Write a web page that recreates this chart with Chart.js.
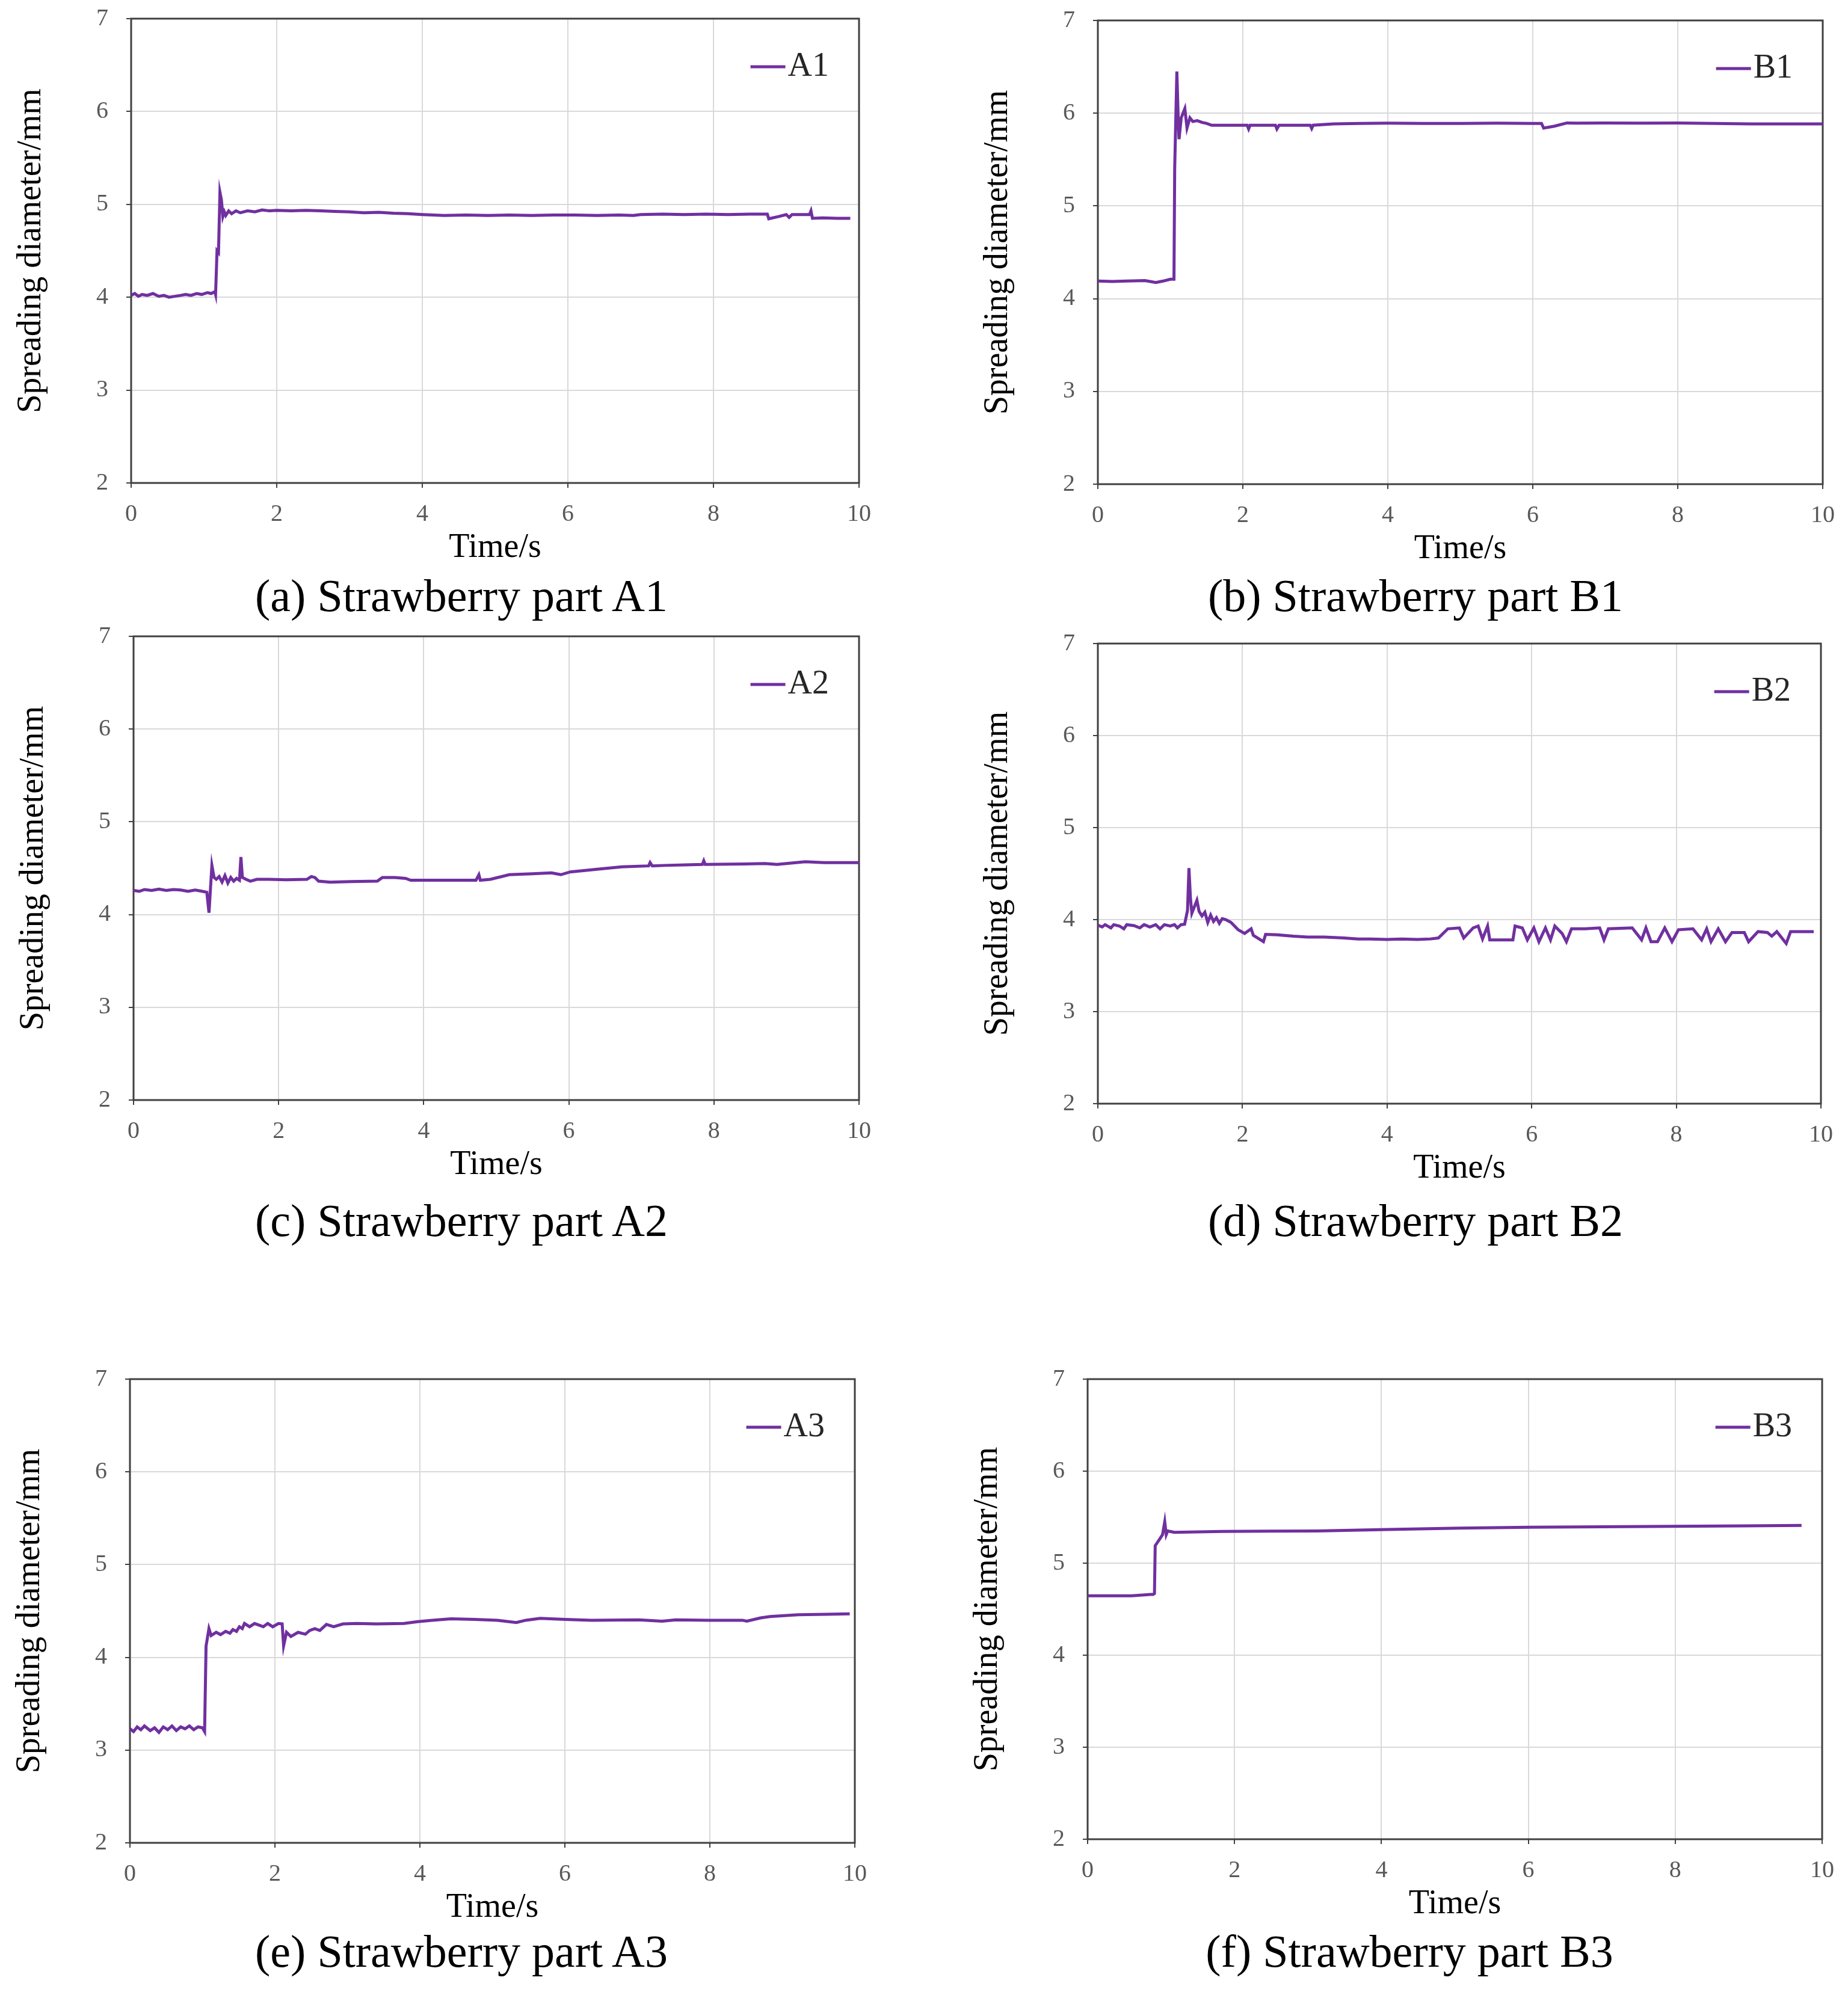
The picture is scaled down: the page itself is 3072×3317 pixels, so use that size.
<!DOCTYPE html>
<html>
<head>
<meta charset="utf-8">
<script src="https://cdn.jsdelivr.net/npm/chart.js@4.4.1/dist/chart.umd.min.js"></script>
<style>
  body { margin: 0; background: #fff; width: 3072px; height: 3317px; position: relative; overflow: hidden; }
  canvas { position: absolute; }
  .cap { position: absolute; width: 1400px; text-align: center; font-family: "Liberation Serif", serif;
         font-size: 76px; line-height: 90px; color: #000; white-space: nowrap; }
</style>
</head>
<body>
<script>
// time (s) and spreading diameter (mm)
const a1Time = [0.00,0.05,0.10,0.15,0.22,0.30,0.38,0.45,0.52,0.60,0.68,0.75,0.82,0.90,0.97,1.05,1.10,1.15,1.16,1.18,1.20,1.22,1.24,1.26,1.28,1.30,1.34,1.38,1.44,1.50,1.60,1.70,1.80,1.90,2.00,2.20,2.40,2.60,2.80,3.00,3.20,3.40,3.60,3.80,4.00,4.30,4.60,4.90,5.20,5.50,5.80,6.10,6.40,6.70,6.90,7.00,7.30,7.60,7.90,8.20,8.50,8.74,8.76,8.90,9.00,9.04,9.08,9.32,9.34,9.36,9.50,9.70,9.88];
const a1Diam = [4.02,4.04,4.01,4.03,4.02,4.04,4.01,4.02,4.00,4.01,4.02,4.03,4.02,4.04,4.03,4.05,4.04,4.06,4.03,4.50,4.48,5.13,5.05,4.87,4.92,4.88,4.93,4.90,4.93,4.91,4.93,4.92,4.94,4.93,4.935,4.93,4.935,4.93,4.925,4.92,4.91,4.915,4.905,4.90,4.89,4.88,4.885,4.88,4.885,4.88,4.885,4.885,4.88,4.885,4.88,4.89,4.895,4.89,4.895,4.89,4.895,4.895,4.845,4.87,4.89,4.86,4.89,4.89,4.93,4.85,4.855,4.85,4.85];

const b1Time = [0.00,0.20,0.40,0.65,0.80,0.90,1.00,1.05,1.06,1.09,1.11,1.12,1.15,1.20,1.23,1.27,1.31,1.37,1.44,1.50,1.57,1.70,1.90,2.06,2.08,2.10,2.45,2.47,2.50,2.93,2.95,2.97,3.25,3.60,4.00,4.50,5.00,5.50,6.00,6.12,6.15,6.30,6.47,6.60,7.00,7.50,8.00,8.50,9.00,9.50,10.00];
const b1Diam = [4.19,4.185,4.19,4.195,4.175,4.19,4.21,4.21,5.40,6.45,5.90,5.72,5.95,6.05,5.84,5.95,5.91,5.92,5.90,5.89,5.87,5.87,5.87,5.87,5.83,5.87,5.87,5.83,5.87,5.87,5.835,5.87,5.885,5.89,5.893,5.89,5.89,5.892,5.89,5.89,5.84,5.86,5.895,5.893,5.895,5.893,5.895,5.89,5.885,5.885,5.885];

const a2Time = [0.00,0.08,0.15,0.25,0.35,0.45,0.55,0.65,0.75,0.85,0.95,1.01,1.04,1.08,1.11,1.14,1.18,1.22,1.26,1.30,1.34,1.38,1.42,1.46,1.48,1.50,1.55,1.61,1.70,1.87,2.10,2.39,2.45,2.50,2.55,2.71,3.00,3.36,3.43,3.60,3.75,3.82,4.20,4.50,4.72,4.76,4.78,4.92,5.18,5.50,5.76,5.89,6.02,6.41,6.73,7.10,7.12,7.15,7.32,7.60,7.84,7.86,7.88,8.42,8.70,8.87,9.00,9.26,9.52,10.00];
const a2Diam = [4.26,4.25,4.27,4.26,4.275,4.26,4.27,4.265,4.25,4.265,4.25,4.24,4.02,4.53,4.40,4.38,4.41,4.35,4.42,4.34,4.40,4.36,4.39,4.37,4.62,4.40,4.38,4.36,4.38,4.38,4.375,4.38,4.41,4.40,4.36,4.35,4.355,4.36,4.40,4.40,4.39,4.37,4.37,4.37,4.37,4.43,4.37,4.38,4.43,4.44,4.45,4.43,4.46,4.49,4.515,4.525,4.56,4.525,4.53,4.535,4.54,4.58,4.54,4.545,4.55,4.54,4.55,4.57,4.56,4.56];

const b2Time = [0.00,0.06,0.10,0.18,0.22,0.30,0.36,0.40,0.50,0.58,0.64,0.72,0.80,0.86,0.92,1.00,1.06,1.10,1.15,1.20,1.24,1.26,1.28,1.30,1.34,1.37,1.40,1.44,1.48,1.52,1.56,1.60,1.64,1.68,1.72,1.77,1.84,1.94,2.03,2.12,2.15,2.29,2.32,2.48,2.70,2.90,3.13,3.40,3.60,3.77,4.00,4.20,4.42,4.60,4.71,4.84,5.00,5.06,5.19,5.26,5.32,5.39,5.42,5.74,5.77,5.87,5.94,6.03,6.10,6.19,6.26,6.32,6.42,6.48,6.55,6.74,6.94,7.00,7.06,7.39,7.52,7.58,7.65,7.74,7.84,7.94,8.03,8.23,8.35,8.42,8.48,8.58,8.68,8.77,8.94,9.00,9.13,9.26,9.32,9.39,9.52,9.58,9.90];
const b2Diam = [3.94,3.92,3.945,3.91,3.945,3.93,3.90,3.945,3.935,3.91,3.945,3.92,3.945,3.90,3.945,3.93,3.945,3.91,3.945,3.95,4.10,4.56,4.24,4.07,4.15,4.21,4.09,4.04,4.08,3.97,4.05,3.98,4.02,3.96,4.01,4.00,3.97,3.89,3.85,3.90,3.83,3.76,3.84,3.835,3.82,3.81,3.81,3.80,3.79,3.79,3.785,3.79,3.785,3.79,3.80,3.90,3.91,3.80,3.91,3.93,3.79,3.93,3.78,3.78,3.93,3.91,3.78,3.91,3.76,3.91,3.78,3.93,3.85,3.76,3.90,3.90,3.91,3.78,3.90,3.91,3.78,3.91,3.76,3.76,3.91,3.76,3.89,3.90,3.78,3.90,3.76,3.90,3.76,3.86,3.86,3.76,3.87,3.86,3.82,3.87,3.74,3.87,3.87];

const a3Time = [0.00,0.05,0.10,0.15,0.20,0.28,0.34,0.40,0.46,0.52,0.58,0.64,0.70,0.76,0.82,0.88,0.94,1.00,1.03,1.05,1.09,1.12,1.19,1.25,1.32,1.38,1.42,1.47,1.51,1.55,1.58,1.65,1.72,1.84,1.90,1.97,2.05,2.10,2.12,2.16,2.22,2.32,2.42,2.48,2.55,2.62,2.71,2.81,2.94,3.13,3.40,3.78,3.97,4.17,4.43,4.75,5.07,5.33,5.46,5.66,6.00,6.37,7.02,7.34,7.53,7.99,8.45,8.51,8.70,8.83,9.22,9.61,9.93];
const a3Diam = [3.23,3.20,3.25,3.22,3.26,3.21,3.24,3.19,3.25,3.22,3.26,3.21,3.25,3.23,3.26,3.22,3.25,3.24,3.20,4.12,4.31,4.235,4.27,4.245,4.28,4.26,4.30,4.28,4.33,4.31,4.365,4.33,4.365,4.33,4.365,4.33,4.365,4.36,4.125,4.27,4.225,4.27,4.25,4.29,4.31,4.29,4.355,4.33,4.36,4.365,4.36,4.365,4.385,4.40,4.415,4.41,4.40,4.375,4.40,4.42,4.41,4.40,4.405,4.39,4.405,4.40,4.40,4.39,4.425,4.44,4.46,4.465,4.47];

const b3Time = [0.00,0.30,0.60,0.86,0.89,0.91,0.92,0.98,1.02,1.05,1.07,1.09,1.18,1.50,1.83,2.50,3.12,4.09,5.06,6.03,7.00,7.97,8.94,9.72];
const b3Diam = [4.645,4.645,4.645,4.66,4.66,4.67,5.19,5.26,5.31,5.45,5.31,5.35,5.335,5.34,5.345,5.348,5.35,5.366,5.38,5.39,5.395,5.40,5.405,5.41];

const xTicks = [0, 2, 4, 6, 8, 10];
const yTicks = [2, 3, 4, 5, 6, 7];

const SERIF = '"Liberation Serif", serif';
const LINE = '#7030A0';

// plot box [left, top, right, bottom] and caption centre, in page pixels
const panels = [
  { label: 'A1', time: a1Time, diam: a1Diam, caption: '(a) Strawberry part A1', box: [218, 31, 1428, 803], cap: [767, 990] },
  { label: 'B1', time: b1Time, diam: b1Diam, caption: '(b) Strawberry part B1', box: [1825, 34, 3030, 805], cap: [2353, 990] },
  { label: 'A2', time: a2Time, diam: a2Diam, caption: '(c) Strawberry part A2', box: [222, 1058, 1428, 1829], cap: [767, 2029] },
  { label: 'B2', time: b2Time, diam: b2Diam, caption: '(d) Strawberry part B2', box: [1825, 1070, 3027, 1835], cap: [2353, 2029] },
  { label: 'A3', time: a3Time, diam: a3Diam, caption: '(e) Strawberry part A3', box: [216, 2293, 1421, 3064], cap: [767, 3244] },
  { label: 'B3', time: b3Time, diam: b3Diam, caption: '(f) Strawberry part B3', box: [1808, 2293, 3029, 3058], cap: [2343, 3244] }
];

// the chart area ends up this much below the layout padding, so the canvas is lifted by it
const TOP_SHIFT = 14;
const Y_AREA = 218, X_AREA = 150, PAD_TOP = 40, PAD_RIGHT = 40;

const frame = {
  id: 'frame',
  beforeDatasetsDraw(chart) {
    const { ctx, chartArea: a } = chart;
    ctx.save();
    ctx.strokeStyle = '#404040';
    ctx.lineWidth = 3;
    ctx.strokeRect(a.left, a.top, a.right - a.left, a.bottom - a.top);
    ctx.restore();
  }
};

// legend sits inside the plot, top right
const insideLegend = {
  id: 'insideLegend',
  afterDraw(chart) {
    const ds = chart.data.datasets[0];
    const { ctx, chartArea: a } = chart;
    ctx.save();
    ctx.font = '56px ' + SERIF;
    ctx.textBaseline = 'middle';
    const w = ctx.measureText(ds.label).width;
    const tx = a.right - 50 - w;
    const ty = a.top + 80;
    ctx.fillStyle = '#262626';
    ctx.fillText(ds.label, tx, ty);
    ctx.strokeStyle = ds.borderColor;
    ctx.lineWidth = 5;
    ctx.beginPath();
    ctx.moveTo(tx - 62, ty);
    ctx.lineTo(tx - 4, ty);
    ctx.stroke();
    ctx.restore();
  }
};

panels.forEach(p => {
  const [l, t, r, b] = p.box;
  const cv = document.createElement('canvas');
  const top = t - PAD_TOP - TOP_SHIFT;
  const cw = (r + PAD_RIGHT) - (l - Y_AREA);
  const ch = (b + X_AREA) - top;
  cv.width = cw; cv.height = ch;
  cv.style.left = (l - Y_AREA) + 'px';
  cv.style.top = top + 'px';
  cv.style.width = cw + 'px';
  cv.style.height = ch + 'px';
  document.body.appendChild(cv);

  new Chart(cv, {
    type: 'line',
    data: {
      datasets: [{
        label: p.label,
        data: p.time.map((x, i) => ({ x, y: p.diam[i] })),
        borderColor: LINE,
        borderWidth: 5,
        pointRadius: 0,
        tension: 0,
        fill: false
      }]
    },
    options: {
      responsive: false,
      animation: false,
      devicePixelRatio: 1,
      layout: { padding: { left: 0, top: PAD_TOP, right: PAD_RIGHT, bottom: 0 } },
      plugins: { legend: { display: false }, tooltip: { enabled: false } },
      scales: {
        x: {
          type: 'linear',
          min: xTicks[0], max: xTicks[xTicks.length - 1],
          afterBuildTicks: s => { s.ticks = xTicks.map(v => ({ value: v })); },
          ticks: { color: '#595959', font: { family: SERIF, size: 40 }, padding: 20, maxRotation: 0, autoSkip: false },
          grid: { color: '#d9d9d9', lineWidth: 2, tickColor: '#404040', tickLength: 8 },
          border: { display: false },
          title: { display: true, text: 'Time/s', color: '#000', font: { family: SERIF, size: 56 }, padding: { top: 0, bottom: 8 } },
          afterFit: s => { s.height = X_AREA; }
        },
        y: {
          min: yTicks[0], max: yTicks[yTicks.length - 1],
          afterBuildTicks: s => { s.ticks = yTicks.map(v => ({ value: v })); },
          ticks: { color: '#595959', font: { family: SERIF, size: 40 }, padding: 30 },
          grid: { color: '#d9d9d9', lineWidth: 2, tickColor: '#404040', tickLength: 8 },
          border: { display: false },
          title: { display: true, text: 'Spreading diameter/mm', color: '#000', font: { family: SERIF, size: 56 }, padding: { top: 19, bottom: 0 } },
          afterFit: s => { s.width = Y_AREA; }
        }
      }
    },
    plugins: [frame, insideLegend]
  });

  const cap = document.createElement('div');
  cap.className = 'cap';
  cap.textContent = p.caption;
  cap.style.left = (p.cap[0] - 700) + 'px';
  cap.style.top = (p.cap[1] - 45) + 'px';
  document.body.appendChild(cap);
});
</script>
</body>
</html>
